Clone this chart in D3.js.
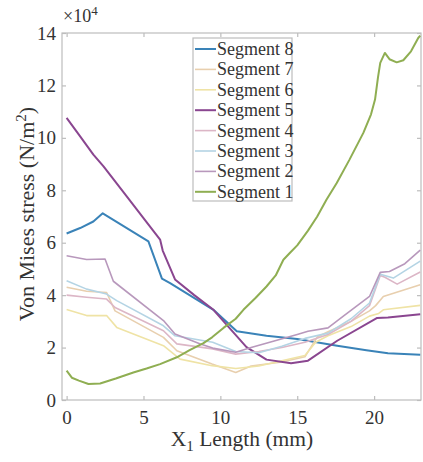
<!DOCTYPE html>
<html><head><meta charset="utf-8">
<script src="https://cdn.jsdelivr.net/npm/d3@7"></script>
<style>body{margin:0;background:#fff;} svg{display:block;}</style>
</head><body>
<svg id="c" width="423" height="462"></svg>
<script>
const seriesNames = ["Segment 8","Segment 7","Segment 6","Segment 5","Segment 4","Segment 3","Segment 2","Segment 1"];
const seriesColors = ["#3a83b8","#e8cfae","#efe3a5","#8a4690","#dcb6c6","#b4d4e4","#b898bc","#8fae52"];
const seriesWidths = [2,1.6,1.6,2,1.6,1.6,1.6,2];

const seg8X = [0, 0.88, 1.74, 2.35, 5.32, 6.2, 6.73, 9.55, 11.07, 13, 15, 17.6, 19.5, 20.9, 23];
const seg8Y = [6.35, 6.56, 6.81, 7.12, 6.05, 4.63, 4.46, 3.44, 2.62, 2.45, 2.33, 2.07, 1.9, 1.78, 1.73];
const seg7X = [0, 1.3, 2.6, 3.15, 6.3, 7.17, 9.46, 11.0, 12.0, 14.0, 15.5, 16.3, 17.0, 18.5, 19.7, 20.1, 20.6, 23];
const seg7Y = [4.3, 4.15, 4.1, 3.4, 2.39, 1.88, 1.37, 1.05, 1.3, 1.45, 1.65, 2.4, 2.6, 3.0, 3.4, 3.6, 3.95, 4.4];
const seg6X = [0, 1.3, 2.6, 3.26, 6.3, 7.38, 9.46, 11.0, 12.5, 14.0, 15.5, 16.2, 17.0, 18.5, 19.7, 20.3, 20.6, 23];
const seg6Y = [3.45, 3.22, 3.22, 2.77, 2.07, 1.56, 1.31, 1.2, 1.3, 1.5, 1.7, 2.2, 2.45, 2.8, 3.2, 3.3, 3.44, 3.61];
const seg5X = [0, 0.88, 1.74, 2.4, 3.91, 5.0, 6.08, 6.25, 7.05, 8.3, 9.55, 10.5, 11.7, 13, 14.6, 15.7, 17.6, 20.2, 20.9, 23];
const seg5Y = [10.76, 10.06, 9.36, 8.91, 7.77, 6.94, 6.12, 5.7, 4.6, 4.0, 3.44, 2.81, 2.02, 1.54, 1.4, 1.5, 2.26, 3.13, 3.15, 3.27];
const seg4X = [0, 1.3, 2.6, 3.15, 6.3, 7.17, 9.5, 11.0, 12.5, 14.0, 15.5, 17.0, 18.5, 19.7, 20.4, 20.7, 21.5, 23];
const seg4Y = [4.0, 3.92, 3.85, 3.53, 2.64, 2.14, 1.95, 1.75, 1.85, 2.0, 2.2, 2.5, 3.0, 3.6, 4.75, 4.68, 4.42, 4.88];
const seg3X = [0, 1.3, 2.6, 3.26, 6.3, 7.05, 9.5, 11.0, 12.5, 14.0, 15.5, 17.0, 18.5, 19.7, 20.4, 21.25, 23];
const seg3Y = [4.55, 4.23, 4.04, 3.79, 2.83, 2.45, 2.2, 1.85, 1.8, 2.05, 2.35, 2.55, 3.1, 3.7, 4.8, 4.65, 5.3];
const seg2X = [0, 1.3, 2.5, 3.04, 6.3, 7.05, 8.7, 9.5, 11.0, 12.0, 13.5, 15.0, 15.7, 17.0, 18.0, 19.7, 20.4, 21.0, 22.0, 23];
const seg2Y = [5.5, 5.36, 5.38, 4.53, 3.03, 2.52, 2.14, 1.98, 1.82, 2.0, 2.25, 2.5, 2.62, 2.75, 3.2, 3.95, 4.87, 4.9, 5.2, 5.72];
const seg1X = [0, 0.34, 0.8, 1.42, 2.18, 3.2, 4.34, 5.2, 6.08, 7.17, 8.0, 8.9, 9.46, 10.2, 11.0, 11.5, 12.3, 13.0, 13.6, 14.1, 14.5, 15.0, 15.7, 16.3, 16.9, 17.57, 18.4, 19.3, 19.8, 20.06, 20.25, 20.4, 20.7, 21.0, 21.47, 21.9, 22.4, 22.87, 23];
const seg1Y = [1.12, 0.85, 0.74, 0.61, 0.63, 0.82, 1.05, 1.2, 1.37, 1.63, 1.9, 2.17, 2.39, 2.75, 3.1, 3.44, 3.9, 4.33, 4.75, 5.35, 5.6, 5.9, 6.46, 7.0, 7.64, 8.28, 9.17, 10.19, 10.9, 11.46, 12.3, 12.86, 13.24, 13.0, 12.88, 12.96, 13.3, 13.81, 13.9];

const xTicks = [0, 5, 10, 15, 20];
const yTicks = [0, 2, 4, 6, 8, 10, 12, 14];

const seriesX = [seg8X, seg7X, seg6X, seg5X, seg4X, seg3X, seg2X, seg1X];
const seriesY = [seg8Y, seg7Y, seg6Y, seg5Y, seg4Y, seg3Y, seg2Y, seg1Y];

const svg = d3.select("#c");
const L = 62, R = 421, T = 33, B = 400;
const x = d3.scaleLinear().domain([-0.3, 23.05]).range([L, R]);
const y = d3.scaleLinear().domain([0, 14]).range([B, T]);
const font = "Liberation Serif";
const axisColor = "#bdbdbd";
const textColor = "#333";

svg.append("rect").attr("x", L).attr("y", T).attr("width", R - L).attr("height", B - T)
  .attr("fill", "none").attr("stroke", axisColor).attr("stroke-width", 1.2);

const gx = svg.append("g").attr("transform", `translate(0,${B})`)
  .call(d3.axisBottom(x).tickValues(xTicks).tickSizeInner(-4).tickSizeOuter(0).tickPadding(11));
const gxt = svg.append("g").attr("transform", `translate(0,${T})`)
  .call(d3.axisTop(x).tickValues(xTicks).tickSizeInner(-4).tickSizeOuter(0).tickFormat(""));
const gy = svg.append("g").attr("transform", `translate(${L},0)`)
  .call(d3.axisLeft(y).tickValues(yTicks).tickSizeInner(-4).tickSizeOuter(0).tickPadding(6));
const gyr = svg.append("g").attr("transform", `translate(${R},0)`)
  .call(d3.axisRight(y).tickValues(yTicks).tickSizeInner(-4).tickSizeOuter(0).tickFormat(""));
[gx, gxt, gy, gyr].forEach(g => {
  g.attr("font-family", font).attr("font-size", 19);
  g.select(".domain").remove();
  g.selectAll(".tick line").attr("stroke", axisColor).attr("stroke-width", 1.2);
  g.selectAll("text").attr("font-family", font).attr("font-size", 19).attr("fill", textColor);
});

const line = d3.line().x(d => x(d[0])).y(d => y(d[1]));
svg.append("clipPath").attr("id", "plotclip").append("rect")
  .attr("x", L).attr("y", T - 2).attr("width", R - L).attr("height", B - T + 2);
const gl = svg.append("g").attr("clip-path", "url(#plotclip)");
seriesNames.forEach((name, i) => {
  const pts = seriesX[i].map((v, j) => [v, seriesY[i][j]]);
  gl.append("path").datum(pts).attr("d", line).attr("fill", "none")
    .attr("stroke", seriesColors[i]).attr("stroke-width", seriesWidths[i])
    .attr("stroke-linejoin", "round");
});

const lg = svg.append("g");
const lx = 193, ly = 38, lw = 99, lh = 163, step = 20.4;
lg.append("rect").attr("x", lx).attr("y", ly).attr("width", lw).attr("height", lh)
  .attr("fill", "#fff").attr("stroke", axisColor).attr("stroke-width", 1.2);
seriesNames.forEach((name, i) => {
  const cy = ly + 11 + i * step;
  lg.append("line").attr("x1", lx + 2).attr("x2", lx + 23).attr("y1", cy).attr("y2", cy)
    .attr("stroke", seriesColors[i]).attr("stroke-width", seriesWidths[i]);
  lg.append("text").attr("x", lx + 24).attr("y", cy + 6).text(name)
    .attr("font-family", font).attr("font-size", 18).attr("fill", textColor);
});

const ex = svg.append("text").attr("x", 63).attr("y", 22).attr("font-family", font).attr("font-size", 18).attr("fill", textColor);
ex.append("tspan").text("×10");
ex.append("tspan").attr("dy", -7).attr("font-size", 13).text("4");

const yl = svg.append("text").attr("transform", `translate(34,214) rotate(-90)`)
  .attr("text-anchor", "middle").attr("font-family", font).attr("font-size", 22).attr("fill", textColor);
yl.append("tspan").text("Von Mises stress (N/m");
yl.append("tspan").attr("dy", -8).attr("font-size", 15).text("2");
yl.append("tspan").attr("dy", 8).text(")");

const xl = svg.append("text").attr("x", 242).attr("y", 446)
  .attr("text-anchor", "middle").attr("font-family", font).attr("font-size", 21.5).attr("fill", textColor);
xl.append("tspan").text("X");
xl.append("tspan").attr("dy", 5).attr("font-size", 15).text("1");
xl.append("tspan").attr("dy", -5).text(" Length (mm)");
</script>
</body></html>
